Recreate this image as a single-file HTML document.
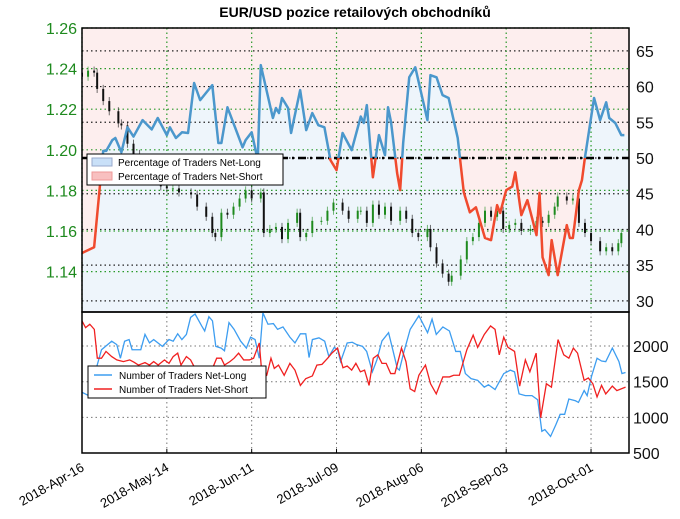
<!DOCTYPE html>
<html><head><meta charset="utf-8"><style>
body{margin:0;background:#fff;}
svg{display:block;font-family:"Liberation Sans",sans-serif;}
</style></head><body>
<svg id="chart" width="680" height="519" viewBox="0 0 680 519" xmlns="http://www.w3.org/2000/svg">
<text x="355" y="17" text-anchor="middle" font-size="14" font-weight="bold">EUR/USD pozice retailových obchodníků</text>
<defs>
<clipPath id="cTop"><rect x="82" y="28" width="547" height="284"/></clipPath>
<clipPath id="cAbove"><rect x="82" y="28" width="547" height="130"/></clipPath>
<clipPath id="cBelow"><rect x="82" y="158" width="547" height="154"/></clipPath>
<clipPath id="cBot"><rect x="82" y="312" width="547" height="141"/></clipPath>
</defs>
<g id="topPanel"></g>
<g id="botPanel"></g>
</svg>
<script>
const dateTicks=["2018-Apr-16","2018-May-14","2018-Jun-11","2018-Jul-09","2018-Aug-06","2018-Sep-03","2018-Oct-01"];
const dateTickDays=[0,28,56,84,112,140,168];
const priceTicks=[1.14,1.16,1.18,1.20,1.22,1.24,1.26];
const pctTicks=[30,35,40,45,50,55,60,65];
const countTicks=[500,1000,1500,2000];
const pctDays=[0,4,7,8,10,11,13,15,17,20,23,25,28,29,31,33,35,37,39,43,45,46,48,53,54,56,58,59,63,64,65,66,68,69,72,74,76,78,80,82,84,86,89,92,93,94,96,98,100,101,102,104,105,106,108,110,114,115,117,119,121,124,126,128,130,133,135,137,138,140,142,143,145,147,150,151,152,154,155,157,160,161,162,164,165,166,169,171,173,174,176,178,179];
const pctLong=[36.7,37.5,51,51,52.5,52.8,50.8,54.3,53,55.3,54,55.6,53.2,54.3,52.8,53.6,53.5,60.5,58.1,60.2,52.1,52.1,57.1,51.5,52.5,53.6,49.7,63,55.6,57,56.3,58.4,57,53.5,59.5,53.9,56.3,54.6,54.3,49.7,48.3,53.5,51.1,55.8,54.9,57.4,47.3,53.2,50.4,57.1,55,47.9,45.5,52.1,61.3,62.7,55.3,61.6,61.3,58.8,58.4,52.8,45.2,42.4,43.1,38.8,38.5,43.4,42.3,45.5,46,48,42,44.1,39.2,45.1,36.1,33.6,38.5,33.6,40.6,38.8,38.8,45.5,46.9,50.1,58.4,55.3,57.8,55.6,54.9,53.2,53.2];
const priceDays=[0,2,4,5,7,9,12,13,15,17,19,20,21,23,26,28,30,32,36,38,41,43,44,46,48,50,52,54,56,59,60,62,64,66,68,71,72,74,76,79,81,83,86,88,91,92,94,96,98,100,102,105,107,109,111,114,115,117,119,121,122,125,127,129,131,133,135,137,139,141,143,145,148,150,152,154,156,157,160,162,164,166,168,171,173,175,177,178];
const priceClose=[1.236,1.239,1.238,1.230,1.224,1.219,1.213,1.212,1.203,1.198,1.193,1.190,1.188,1.185,1.182,1.181,1.181,1.179,1.178,1.172,1.167,1.159,1.157,1.169,1.168,1.172,1.176,1.180,1.176,1.179,1.159,1.161,1.162,1.156,1.164,1.169,1.157,1.159,1.165,1.165,1.170,1.174,1.170,1.166,1.170,1.170,1.164,1.173,1.168,1.172,1.165,1.170,1.166,1.159,1.157,1.161,1.152,1.144,1.139,1.135,1.138,1.146,1.155,1.157,1.164,1.170,1.167,1.170,1.161,1.163,1.164,1.160,1.161,1.165,1.164,1.168,1.172,1.177,1.175,1.176,1.164,1.159,1.155,1.150,1.152,1.150,1.154,1.159];
const longDays=[0,2.2,6.5,9.9,11.6,12.8,14.2,15.7,16.7,19.6,21,22.5,23.9,26.8,29,30.4,31.9,33.3,34.8,36.2,37.7,39.9,40.9,42.3,43.5,44.6,46.4,47.5,49,50.7,52.9,54.8,56.2,57.7,59.1,60.3,62,63.8,65.2,67,69.3,71,72.8,74.6,75.7,76.8,79,80.9,82.3,84.1,85.2,86.2,88.4,90.1,91.6,93.5,94.9,96.8,98.3,100,102.2,103.6,105.1,105.8,107.2,109.4,112.3,115.2,116.7,118.1,120.3,122.5,124.6,126.1,127.8,129.7,131.9,134.1,135.5,137.7,140.6,142.8,144.2,145.7,147.8,150,151.9,153.3,154.3,156.2,158,159.4,160.9,162.3,164.5,165.5,167.4,168.4,169.9,171.7,173.2,174.6,176.8,179,180,181.2];
const longCount=[1352,1305,1948,2067,2019,1829,2067,2090,1948,1948,2162,2043,2090,1995,2090,2067,2171,2090,2162,2400,2448,2281,2210,2410,2352,1995,1971,1933,2328,2233,2067,1971,2124,2090,1829,2465,2305,2314,2233,2267,2124,2043,2171,2171,1838,2090,2114,2067,1852,1981,1948,1781,2043,2052,2019,1995,1924,1638,1805,2071,2186,1948,1686,1662,1900,2233,2424,2186,2376,2162,2267,2210,1924,1924,1614,1543,1519,1424,1457,1390,1614,1662,1638,1329,1305,1305,1248,805,829,733,900,1043,1043,1257,1233,1210,1376,1305,1581,1829,1790,1781,1971,1781,1614,1629];
const shortDays=[0,1.2,2.6,4.1,5.1,6.5,8,9.9,11.6,13.8,15.9,17.4,18.8,21,22.5,23.9,25.4,27.5,29,30.4,31.9,33,34.8,36.2,37.7,43.5,44.9,46.4,47.5,49.3,50.7,52.2,53.9,55.8,57.2,59.1,60.1,61.6,63,64.1,65.5,67.4,69.3,71,72.8,74.6,76.8,78.3,80,81.9,83.3,85.2,87,88.4,89.9,91.3,92.8,94.2,95.7,97.1,98.6,100,101.4,102.9,104.3,106.5,108,109.4,110.9,112.3,114.5,116.2,118.1,120.3,122.5,123.9,125.8,128.3,130.4,131.9,134.1,136.2,137.7,139.1,140.6,142,144.2,145.9,147.8,149.3,151.4,152.9,154.8,156.5,158.7,160.6,162.3,163.8,165.2,167.4,168.8,170.3,171.7,173.2,174.6,176.8,178.3,181.2];
const shortCount=[2352,2257,2305,2233,1829,1829,1924,1852,1805,1781,1805,1772,1733,1767,1733,1781,1733,1805,1757,1852,1900,1733,1852,1805,1686,1686,1829,1829,1733,1781,1829,1900,1805,1805,1829,2043,1543,1590,1829,1686,1733,1590,1757,1662,1448,1543,1581,1733,1743,1829,1900,1971,1695,1719,1662,1757,1638,1662,1448,1829,1876,1757,1757,1614,1614,1971,1781,1400,1362,1590,1733,1471,1329,1567,1567,1590,1590,1948,2152,1981,2162,2281,2233,1876,2124,1981,1924,1438,1805,1638,1900,995,1471,1424,2090,1876,1829,1971,1900,1519,1552,1471,1286,1448,1329,1438,1376,1424];

const NS="http://www.w3.org/2000/svg";
const X=d=>82+d*3.03;
const PY=v=>28+(1.26-v)/0.02*40.6;
const QY=v=>158-(v-50)*7.143;
const BY=v=>346-(v-2000)*0.0714;
function mk(tag,attrs,parent){const e=document.createElementNS(NS,tag);for(const k in attrs)e.setAttribute(k,attrs[k]);parent.appendChild(e);return e;}
const topG=document.getElementById('topPanel'), botG=document.getElementById('botPanel');

let bg=mk('rect',{x:82,y:28,width:547,height:284,fill:'#fdeeee'},topG);


let ptsStr=pctDays.map((d,i)=>X(d)+','+QY(pctLong[i])).join(' ');
let fillPoly=mk('polygon',{points:X(pctDays[0])+',312 '+ptsStr+' 629,'+QY(pctLong[pctLong.length-1])+' 629,312',fill:'#eef5fb','clip-path':'url(#cTop)'},topG);



pctTicks.forEach(v=>{let l=mk('line',{x1:82,x2:629,y1:QY(v),y2:QY(v),stroke:'#222','stroke-width':1.2,'stroke-dasharray':'1.5,3'},topG);

});
priceTicks.forEach(v=>{let l=mk('line',{x1:82,x2:629,y1:PY(v),y2:PY(v),stroke:'#2a9a2a','stroke-width':1.2,'stroke-dasharray':'1.5,3'},topG);

});
dateTickDays.forEach(d=>{let l=mk('line',{x1:X(d),x2:X(d),y1:28,y2:312,stroke:'#2a9a2a','stroke-width':1.2,'stroke-dasharray':'1.5,3'},topG);

});
let fifty=mk('line',{x1:82,x2:629,y1:QY(50),y2:QY(50),stroke:'#000','stroke-width':2.5,'stroke-dasharray':'8,4,2,4'},topG);



const cg=mk('g',{'clip-path':'url(#cTop)'},topG);


priceClose.forEach((c,i)=>{
  const o=i>0?priceClose[i-1]:c+0.002; const up=c>=o; const col=up?'#1e8a1e':'#111';
  const x=X(priceDays[i]); const hi=Math.max(o,c)+0.002, lo=Math.min(o,c)-0.002;
  let w=mk('line',{x1:x,x2:x,y1:PY(hi),y2:PY(lo),stroke:col,'stroke-width':1,opacity:0.6},cg);
  
  
  let b=mk('rect',{x:x-1,y:PY(Math.max(o,c)),width:2,height:Math.max(1,PY(Math.min(o,c))-PY(Math.max(o,c))),fill:col},cg);
  
  
});

let lb=mk('polyline',{points:ptsStr,fill:'none',stroke:'#4b97cc','stroke-width':2.5,'clip-path':'url(#cAbove)','stroke-linejoin':'round'},topG);


let lr=mk('polyline',{points:ptsStr,fill:'none',stroke:'#f04a2e','stroke-width':2.5,'clip-path':'url(#cBelow)','stroke-linejoin':'round'},topG);



let fr=mk('rect',{x:82,y:28,width:547,height:284,fill:'none',stroke:'#000','stroke-width':1.5},topG);


priceTicks.forEach(v=>{let t=mk('text',{x:77,y:PY(v)+6,'text-anchor':'end','font-size':16,fill:'#1e8a1e'},topG);t.textContent=v.toFixed(2);

});
pctTicks.forEach(v=>{let t=mk('text',{x:636,y:QY(v)+6,'font-size':16,fill:'#111'},topG);t.textContent=v;

});

const lg=mk('g',{},topG);


mk('rect',{x:87,y:154,width:196,height:31,fill:'#fff',stroke:'#000','stroke-width':1},lg);
mk('rect',{x:92,y:158,width:20,height:8,fill:'#c9e0f8',stroke:'#9ac'},lg);
mk('rect',{x:92,y:172,width:20,height:8,fill:'#f8c0c0',stroke:'#e99'},lg);
let t1=mk('text',{x:118,y:166,'font-size':10},lg);t1.textContent='Percentage of Traders Net-Long';


let t2=mk('text',{x:118,y:180,'font-size':10},lg);t2.textContent='Percentage of Traders Net-Short';



[1000,1500,2000].forEach(v=>{let l=mk('line',{x1:82,x2:629,y1:BY(v),y2:BY(v),stroke:'#777','stroke-width':1,'stroke-dasharray':'1.5,3'},botG);

});
dateTickDays.forEach(d=>{let l=mk('line',{x1:X(d),x2:X(d),y1:312,y2:453,stroke:'#777','stroke-width':1,'stroke-dasharray':'1.5,3'},botG);

});
let ll=mk('polyline',{points:longDays.map((d,i)=>X(d*0.99)+','+BY(longCount[i])).join(' '),fill:'none',stroke:'#3d9df0','stroke-width':1.3,'clip-path':'url(#cBot)'},botG);


let ls=mk('polyline',{points:shortDays.map((d,i)=>X(d*0.99)+','+BY(shortCount[i])).join(' '),fill:'none',stroke:'#f02020','stroke-width':1.3,'clip-path':'url(#cBot)'},botG);


let fb=mk('rect',{x:82,y:312,width:547,height:141,fill:'none',stroke:'#000','stroke-width':1.5},botG);


countTicks.forEach(v=>{let t=mk('text',{x:633,y:BY(v)+6,'font-size':16,fill:'#111'},botG);t.textContent=v;

});
const bl=mk('g',{},botG);


mk('rect',{x:88,y:366,width:178,height:32,fill:'#fff',stroke:'#000','stroke-width':1},bl);
mk('line',{x1:94,x2:112,y1:375,y2:375,stroke:'#3d9df0','stroke-width':1.5},bl);
mk('line',{x1:94,x2:112,y1:389,y2:389,stroke:'#f02020','stroke-width':1.5},bl);
let b1=mk('text',{x:119,y:379,'font-size':10},bl);b1.textContent='Number of Traders Net-Long';


let b2=mk('text',{x:119,y:393,'font-size':10},bl);b2.textContent='Number of Traders Net-Short';



dateTicks.forEach((s,i)=>{const x=X(dateTickDays[i]);
 let tk=mk('line',{x1:x,x2:x,y1:453,y2:449,stroke:'#000'},botG);
 
 
 let t=mk('text',{x:x+3,y:470,'text-anchor':'end','font-size':13,transform:'rotate(-30 '+(x+3)+' 470)'},botG);t.textContent=s;
 
 });
</script>
</body></html>
